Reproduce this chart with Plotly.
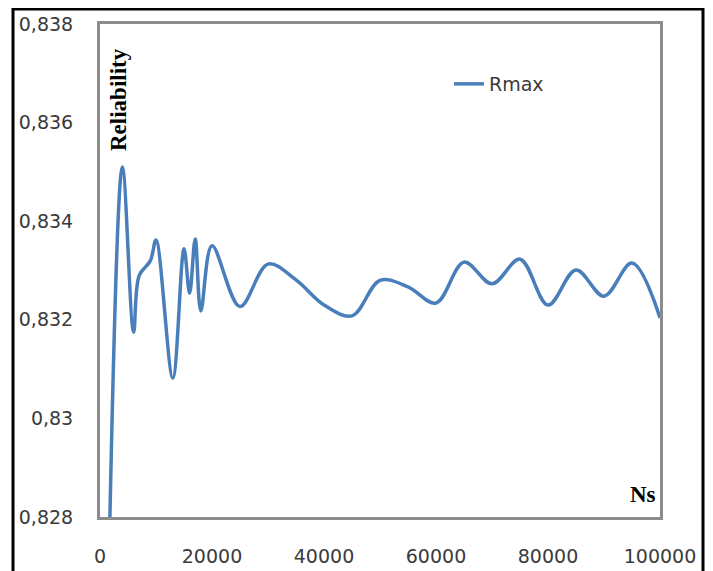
import plotly.graph_objects as go

# Data
ns = [1000, 4000, 6000, 7000, 9000, 10000, 13000, 15000, 16000, 17000, 18000,
      20000, 25000, 30000, 35000, 40000, 45000, 50000, 55000, 60000, 65000,
      70000, 75000, 80000, 85000, 90000, 95000, 100000]
rmax = [0.8235, 0.8351, 0.83175, 0.8329, 0.8332, 0.83362, 0.83082, 0.83344, 0.83254, 0.83364, 0.83218,
        0.83350, 0.83227, 0.83313, 0.83281, 0.83230, 0.83208, 0.83280, 0.83267, 0.83234, 0.83317,
        0.83273, 0.83323, 0.83230, 0.83301, 0.83248, 0.83315, 0.83204]

y_tickvals = [0.828, 0.830, 0.832, 0.834, 0.836, 0.838]
y_ticktext = ["0,828", "0,83", "0,832", "0,834", "0,836", "0,838"]
x_tickvals = [0, 20000, 40000, 60000, 80000, 100000]
x_ticktext = ["0", "20000", "40000", "60000", "80000", "100000"]

W, H = 713, 571
OFF = 8  # default page body margin
# plot area in screen pixels
PL, PR, PT, PB = 100, 660, 24, 517
L, T = PL - OFF, PT - OFF
R = W + OFF - PR
B = H + OFF - PB
pw, ph = PR - PL, PB - PT


def px(x):
    return (x - PL) / pw


def py(y):
    return (PB - y) / ph


fig = go.Figure()
fig.add_trace(go.Scatter(
    x=ns, y=rmax, mode="lines", name="Rmax",
    line=dict(color="#4a7ebb", width=3.5, shape="spline", smoothing=1.0),
))

tickfont = dict(family="DejaVu Sans", size=19, color="#3a3a3a")

fig.update_layout(
    width=W, height=H,
    margin=dict(l=L, r=R, t=T, b=B, autoexpand=False),
    paper_bgcolor="white", plot_bgcolor="white",
    showlegend=True,
    legend=dict(x=px(449), y=py(84), xanchor="left", yanchor="middle",
                font=tickfont, bgcolor="rgba(0,0,0,0)"),
    xaxis=dict(range=[0, 100000], tickvals=x_tickvals, ticktext=x_ticktext,
               showgrid=False, zeroline=False, showline=True, mirror=True,
               linecolor="#8c8c8c", linewidth=3, ticks="", tickfont=tickfont,
               ticklabelstandoff=20, automargin=False),
    yaxis=dict(range=[0.828, 0.838], tickvals=y_tickvals, ticktext=y_ticktext,
               showgrid=False, zeroline=False, showline=True, mirror=True,
               linecolor="#8c8c8c", linewidth=3, ticks="", tickfont=tickfont,
               ticklabelstandoff=20, automargin=False),
    shapes=[dict(type="rect", xref="paper", yref="paper",
                 x0=px(13), x1=px(703), y0=py(600), y1=py(9),
                 line=dict(color="black", width=3), layer="above")],
    annotations=[
        dict(text="<b>Reliability</b>", xref="paper", yref="paper",
             x=px(118), y=py(100), xanchor="center", yanchor="middle",
             textangle=-90, showarrow=False,
             font=dict(family="Liberation Serif", size=23, color="black")),
        dict(text="<b>Ns</b>", xref="paper", yref="paper",
             x=px(658), y=py(494), xanchor="right", yanchor="middle",
             showarrow=False,
             font=dict(family="Liberation Serif", size=23, color="black")),
    ],
)

fig.write_html("out.html")
